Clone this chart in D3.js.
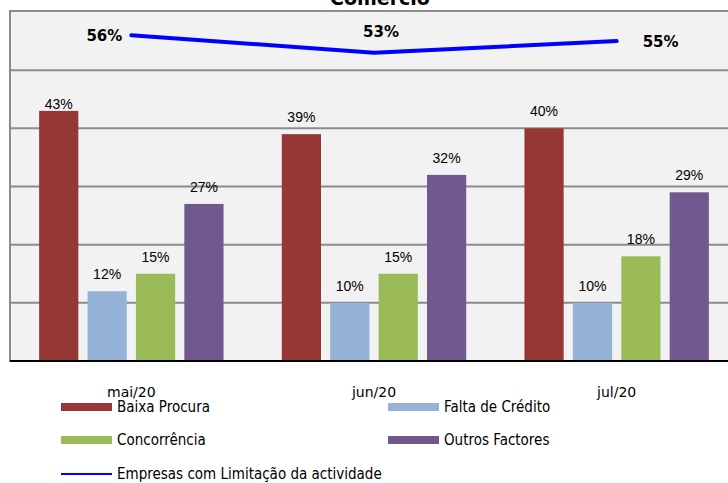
<!DOCTYPE html>
<html>
<head>
<meta charset="utf-8">
<script src="https://cdn.jsdelivr.net/npm/d3@7"></script>
<style>
  body { margin: 0; background: #fff; }
  svg { display: block; }
</style>
</head>
<body>
<div id="chart"></div>
<script>
let months = ["mai/20", "jun/20", "jul/20"];
let seriesNames = ["Baixa Procura", "Falta de Crédito", "Concorrência", "Outros Factores"];
let baixaProcura = [43, 39, 40];
let faltaCredito = [12, 10, 10];
let concorrencia = [15, 15, 18];
let outrosFactores = [27, 32, 29];
let limitacao = [56, 53, 55];
let lineName = "Empresas com Limitação da actividade";
let yTicks = [0, 10, 20, 30, 40, 50, 60];

let colors = ["#953735", "#95B3D7", "#9BBB59", "#71588F"];
let width = 728, height = 483;
let plot = { left: 10, right: 738, top: 12, bottom: 361 };

let svg = d3.select("#chart").append("svg")
    .attr("width", width)
    .attr("height", height);

let seriesValues = [baixaProcura, faltaCredito, concorrencia, outrosFactores];
let data = months.map((m, i) => ({
    month: m,
    values: seriesNames.map((s, j) => ({ name: s, value: seriesValues[j][i], color: colors[j] }))
}));

let x0 = d3.scaleBand().domain(months).range([plot.left, plot.right])
    .paddingInner(0.24).paddingOuter(0.12);
let x1 = d3.scaleBand().domain(seriesNames).range([0, x0.bandwidth()]).paddingInner(0.19);
let y = d3.scaleLinear().domain([0, 60]).range([plot.bottom, plot.top]);
let xc = m => x0(m) + x0.bandwidth() / 2;

// plot area
svg.append("rect")
    .attr("x", plot.left).attr("y", plot.top - 1)
    .attr("width", plot.right - plot.left).attr("height", plot.bottom - plot.top + 1)
    .attr("fill", "#F2F2F2")
    .attr("stroke", "#8C8C8C")
    .attr("stroke-width", 2);

svg.selectAll(".grid").data(yTicks.slice(1, -1)).enter()
    .append("line")
    .attr("class", "grid")
    .attr("x1", plot.left).attr("x2", plot.right)
    .attr("y1", d => y(d)).attr("y2", d => y(d))
    .attr("stroke", "#8C8C8C")
    .attr("stroke-width", 2);

// title (cut off at top)
svg.append("text")
    .text("Comércio")
    .attr("x", 380).attr("y", 5)
    .attr("text-anchor", "middle")
    .style("font-family", "'DejaVu Sans'")
    .style("font-weight", "bold")
    .style("font-size", "19px");

// bars
let groups = svg.selectAll(".group").data(data).enter()
    .append("g")
    .attr("class", "group")
    .attr("transform", d => "translate(" + x0(d.month) + ",0)");

groups.selectAll("rect").data(d => d.values).enter()
    .append("rect")
    .attr("x", d => x1(d.name))
    .attr("y", d => y(d.value))
    .attr("width", x1.bandwidth())
    .attr("height", d => y(0) - y(d.value))
    .attr("fill", d => d.color);

groups.selectAll("text").data(d => d.values).enter()
    .append("text")
    .text(d => d.value + "%")
    .attr("x", d => x1(d.name) + x1.bandwidth() / 2)
    .attr("y", d => Math.max(y(d.value) - 12, 109))
    .attr("text-anchor", "middle")
    .style("font-family", "'Liberation Sans', Arial")
    .style("font-size", "14px")
    .attr("fill", "#000");

// baseline
svg.append("line")
    .attr("x1", plot.left).attr("x2", plot.right)
    .attr("y1", y(0)).attr("y2", y(0))
    .attr("stroke", "#000")
    .attr("stroke-width", 2);

// x labels
svg.selectAll(".xlab").data(months).enter()
    .append("text")
    .attr("class", "xlab")
    .text(d => d)
    .attr("x", d => xc(d))
    .attr("y", 397)
    .attr("text-anchor", "middle")
    .style("font-family", "'DejaVu Sans'")
    .style("font-size", "14px");

// line
let line = d3.line()
    .x((d, i) => xc(months[i]))
    .y(d => y(d));

svg.append("path")
    .datum(limitacao)
    .attr("d", line)
    .attr("fill", "none")
    .attr("stroke", "#0000FF")
    .attr("stroke-width", 4)
    .attr("stroke-linecap", "round")
    .attr("stroke-linejoin", "round");

let lineLabelPos = ["left", "top", "right"];
svg.selectAll(".llab").data(limitacao).enter()
    .append("text")
    .attr("class", "llab")
    .text(d => d + "%")
    .attr("x", (d, i) => {
        let cx = xc(months[i]);
        if (lineLabelPos[i] == "left") return cx - 9;
        if (lineLabelPos[i] == "right") return cx + 26;
        return cx + 7;
    })
    .attr("y", (d, i) => lineLabelPos[i] == "top" ? y(d) - 16 : y(d) + 6)
    .attr("text-anchor", (d, i) => lineLabelPos[i] == "left" ? "end" : (lineLabelPos[i] == "right" ? "start" : "middle"))
    .style("font-family", "'DejaVu Sans'")
    .style("font-weight", "bold")
    .style("font-size", "15px");

// legend
let legendItems = [
    { name: seriesNames[0], color: colors[0], type: "rect", x: 61, y: 407 },
    { name: seriesNames[1], color: colors[1], type: "rect", x: 388, y: 407 },
    { name: seriesNames[2], color: colors[2], type: "rect", x: 61, y: 440 },
    { name: seriesNames[3], color: colors[3], type: "rect", x: 388, y: 440 },
    { name: lineName, color: "#0000FF", type: "line", x: 61, y: 474 }
];

let legend = svg.selectAll(".legend").data(legendItems).enter()
    .append("g")
    .attr("class", "legend")
    .attr("transform", d => "translate(" + d.x + "," + d.y + ")");

legend.filter(d => d.type == "rect").append("rect")
    .attr("x", 0).attr("y", -4)
    .attr("width", 51).attr("height", 8)
    .attr("fill", d => d.color);

legend.filter(d => d.type == "line").append("line")
    .attr("x1", 0).attr("x2", 51)
    .attr("y1", 0).attr("y2", 0)
    .attr("stroke", d => d.color)
    .attr("stroke-width", 2);

legend.append("text")
    .text(d => d.name)
    .attr("x", 56).attr("y", 5)
    .style("font-family", "'DejaVu Sans Condensed', 'DejaVu Sans'")
    .style("font-stretch", "condensed")
    .style("font-size", "15px");
</script>
</body>
</html>
